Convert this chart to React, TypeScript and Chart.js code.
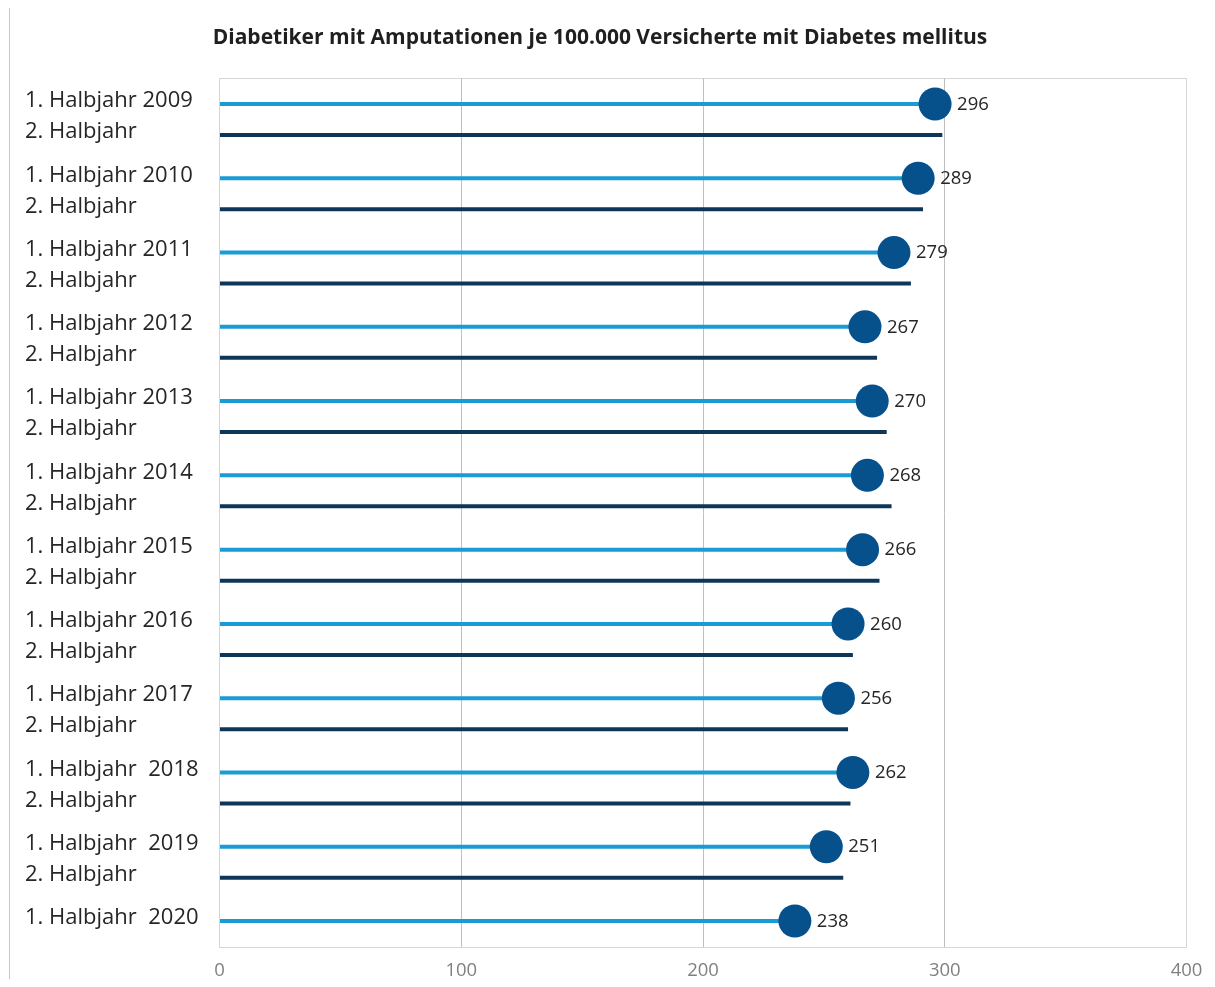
import React, { useEffect, useRef } from "react";
import { Chart, registerables } from "chart.js";

Chart.register(...registerables);

// ---- data ----
const chartTitle = "Diabetiker mit Amputationen je 100.000 Versicherte mit Diabetes mellitus";
const firstHalfLabels = [
  "1. Halbjahr 2009",
  "1. Halbjahr 2010",
  "1. Halbjahr 2011",
  "1. Halbjahr 2012",
  "1. Halbjahr 2013",
  "1. Halbjahr 2014",
  "1. Halbjahr 2015",
  "1. Halbjahr 2016",
  "1. Halbjahr 2017",
  "1. Halbjahr  2018",
  "1. Halbjahr  2019",
  "1. Halbjahr  2020",
];
const secondHalfLabel = "2. Halbjahr";
const firstHalfValues = [296, 289, 279, 267, 270, 268, 266, 260, 256, 262, 251, 238];
const secondHalfValues: (number | null)[] = [299, 291, 286, 272, 276, 278, 273, 262, 260, 261, 258, null];
const xTickValues = [0, 100, 200, 300, 400];

// ---- layout constants ----
const H2_SHIFT = 0.4174;
const Y_MIN = -0.35;
const Y_MAX = 11.35;
const FONT = '"Open Sans", "DejaVu Sans", sans-serif';

const COLOR_H1 = "#1b9bd3";
const COLOR_H2 = "#0d3658";
const COLOR_DOT = "#06508b";

const valueLabelPlugin = {
  id: "valueLabels",
  afterDatasetsDraw(chart: any) {
    const meta = chart.getDatasetMeta(0);
    const ctx = chart.ctx;
    ctx.save();
    ctx.font = `18.5px ${FONT}`;
    ctx.fillStyle = "#262626";
    ctx.textAlign = "left";
    ctx.textBaseline = "middle";
    meta.data.forEach((el: any, i: number) => {
      ctx.fillText(String(firstHalfValues[i]), el.x + 22, el.y + 0.5);
    });
    ctx.restore();
  },
};

export default function App() {
  const ref = useRef<HTMLCanvasElement | null>(null);

  useEffect(() => {
    if (!ref.current) return;

    const barData: { x: number; y: number }[] = [];
    const barColors: string[] = [];
    const tickValues: number[] = [Y_MIN];
    const tickTexts: string[] = [""];
    firstHalfLabels.forEach((lab, k) => {
      barData.push({ x: firstHalfValues[k], y: k });
      barColors.push(COLOR_H1);
      tickValues.push(k);
      tickTexts.push(lab);
      const v2 = secondHalfValues[k];
      if (v2 !== null) {
        barData.push({ x: v2, y: k + H2_SHIFT });
        barColors.push(COLOR_H2);
        tickValues.push(k + H2_SHIFT);
        tickTexts.push(secondHalfLabel);
      }
    });
    const dotData = firstHalfValues.map((v, k) => ({ x: v, y: k }));

    const chart = new Chart(ref.current, {
      type: "bar",
      data: {
        datasets: [
          {
            type: "scatter",
            label: "1. Halbjahr",
            data: dotData,
            xAxisID: "x",
            yAxisID: "y",
            order: 0,
            pointRadius: 16.5,
            pointHoverRadius: 16.5,
            pointBackgroundColor: COLOR_DOT,
            pointBorderWidth: 0,
            backgroundColor: COLOR_DOT,
            borderWidth: 0,
            showLine: false,
          } as any,
          {
            type: "bar",
            label: "Halbjahre",
            data: barData,
            xAxisID: "x",
            yAxisID: "y",
            order: 1,
            backgroundColor: barColors,
            borderWidth: 0,
            maxBarThickness: 4,
          } as any,
        ],
      },
      options: {
        indexAxis: "y",
        responsive: false,
        animation: false,
        events: [],
        layout: { padding: { left: 5.5, right: 28.5, top: 0, bottom: 0 } },
        plugins: {
          legend: { display: false },
          tooltip: { enabled: false },
          title: {
            display: true,
            text: chartTitle,
            color: "#1f1f1f",
            font: { family: FONT, size: 21, weight: "bold" },
            padding: { top: 17.6, bottom: 27.2 },
          },
        },
        scales: {
          yPad: {
            type: "linear",
            axis: "y",
            position: "left",
            weight: 10,
            display: true,
            grid: { display: false, drawTicks: false },
            border: { display: false },
            ticks: { display: false },
            afterFit: (s: any) => {
              s.width = 11.5;
            },
          },
          y: {
            type: "linear",
            position: "left",
            reverse: true,
            min: Y_MIN,
            max: Y_MAX,
            offset: false,
            weight: 0,
            grid: {
              offset: false,
              drawTicks: false,
              color: (c: any) => (c.tick && c.tick.value === Y_MIN ? "#d6d6d6" : "rgba(0,0,0,0)"),
            },
            border: { display: false },
            afterBuildTicks: (s: any) => {
              s.ticks = tickValues.map((v) => ({ value: v }));
            },
            afterFit: (s: any) => {
              s.width = 194.5;
            },
            ticks: {
              autoSkip: false,
              crossAlign: "far",
              padding: 0,
              labelOffset: -3,
              color: "#262626",
              font: { family: FONT, size: 22 },
              callback: (_v: any, i: number) => tickTexts[i],
            },
          },
          x: {
            type: "linear",
            position: "bottom",
            min: 0,
            max: 400,
            offset: false,
            grid: {
              offset: false,
              drawTicks: false,
              color: (c: any) =>
                c.tick && (c.tick.value === 0 || c.tick.value === 400) ? "#d6d6d6" : "#bfbfbf",
            },
            border: { display: true, color: "#d6d6d6" },
            afterBuildTicks: (s: any) => {
              s.ticks = xTickValues.map((v) => ({ value: v }));
            },
            afterFit: (s: any) => {
              s.height = 40;
              s.paddingLeft = 0;
              s.paddingRight = 0;
            },
            ticks: {
              padding: 13,
              color: "#808080",
              font: { family: FONT, size: 18.5 },
              callback: (v: any) => String(v),
            },
          },
        },
      },
      plugins: [valueLabelPlugin],
    });

    return () => chart.destroy();
  }, []);

  return (
    <div style={{ position: "relative", width: 1199, height: 971 }}>
      <div
        style={{
          position: "absolute",
          left: 1,
          top: -2,
          width: 1206,
          height: 981,
          boxSizing: "border-box",
          borderLeft: "1px solid #b7c9e8",
          borderTop: "1px solid #b7c9e8",
          pointerEvents: "none",
        }}
      />
      <canvas
        ref={ref}
        width={1207}
        height={979}
        style={{ position: "absolute", left: 0, top: 0, width: 1207, height: 979, display: "block" }}
      />
    </div>
  );
}
